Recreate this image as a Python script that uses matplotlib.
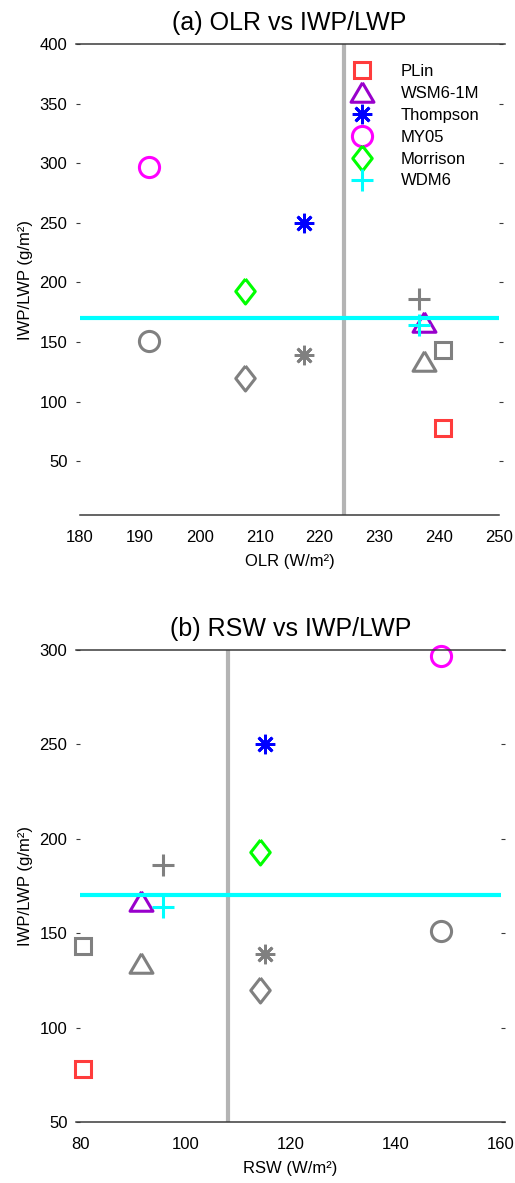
import matplotlib
matplotlib.use("Agg")
import matplotlib.pyplot as plt
from matplotlib.lines import Line2D

plt.rcParams['font.family'] = ['Liberation Sans', 'DejaVu Sans']

# Microphysics schemes
schemes = ["PLin", "WSM6-1M", "Thompson", "MY05", "Morrison", "WDM6"]
colors = ["#ff3c3c", "#9900cc", "#0000ff", "#ff00ff", "#00ff00", "#00ffff"]

# Ice/liquid water path ratio (g/m^2): control runs and sensitivity runs
iwp_lwp = [78, 167, 250, 297, 193, 164]
iwp_lwp_sens = [143, 134, 139, 151, 120, 186]

# Outgoing longwave and reflected shortwave radiation (W/m^2)
olr = [240.6, 237.5, 217.5, 191.5, 207.5, 236.6]
rsw = [80.6, 91.6, 115.2, 148.6, 114.2, 95.8]

# Reference values
olr_ref = 224.1
rsw_ref = 108.2
ratio_ref = 170

gray = "#808080"

diamond = [(0, 1), (0.78, 0), (0, -1), (-0.78, 0), (0, 1)]
triangle = [(0, 0.85), (1, -0.85), (-1, -0.85), (0, 0.85)]
markers = ["s", triangle, (8, 2, 0), "o", diamond, "+"]
msizes = [12, 16.5, 14, 14.5, 18, 16]
mews = [2.2, 2.2, 2.0, 2.2, 2.2, 2.2]

fig = plt.figure(figsize=(5.15, 11.83), dpi=100)
W, H = 515.0, 1183.0
ax_a = fig.add_axes([80 / W, 1 - 515 / H, 419 / W, 471 / H])
ax_b = fig.add_axes([80 / W, 1 - 1122 / H, 421 / W, 472 / H])

spine_col = "#3a3a3a"


def style(ax, xlim, ylim, xticks, yticks, xlabel, title, ext_left, ext_right, bottom_ext):
    ax.set_xlim(*xlim)
    ax.set_ylim(*ylim)
    ax.set_xticks(xticks)
    ax.set_yticks(yticks)
    for s in ["left", "right", "top", "bottom"]:
        ax.spines[s].set_visible(False)
    ax.add_line(Line2D([ext_left, ext_right], [1, 1], transform=ax.transAxes,
                       color=spine_col, lw=1.1, clip_on=False, zorder=5))
    b0, b1 = (ext_left, ext_right) if bottom_ext else (0, 1)
    ax.add_line(Line2D([b0, b1], [0, 0], transform=ax.transAxes,
                       color=spine_col, lw=1.1, clip_on=False, zorder=5))
    ax.tick_params(axis="x", length=0, pad=11, labelsize=12)
    ax.tick_params(axis="y", which="both", left=True, right=True, direction="out",
                   length=3, width=0.8, color=spine_col, pad=6, labelsize=12)
    ax.set_xlabel(xlabel, fontsize=12, labelpad=6)
    ax.set_ylabel("IWP/LWP (g/m²)", fontsize=12, labelpad=5)
    ax.set_title(title, fontsize=18, pad=10)


def draw_points(ax, xs, with_labels):
    for i, name in enumerate(schemes):
        ax.plot(xs[i], iwp_lwp_sens[i], linestyle="none", marker=markers[i],
                markersize=msizes[i], markerfacecolor="none", markeredgecolor=gray,
                markeredgewidth=mews[i], zorder=3, clip_on=False)
    for i, name in enumerate(schemes):
        ax.plot(xs[i], iwp_lwp[i], linestyle="none", marker=markers[i],
                markersize=msizes[i], markerfacecolor="none", markeredgecolor=colors[i],
                markeredgewidth=mews[i], zorder=3, clip_on=False,
                label=name if with_labels else None)


# (a) OLR vs IWP/LWP
draw_points(ax_a, olr, True)
ax_a.axvline(olr_ref, color="#b4b4b4", lw=3, zorder=4)
ax_a.axhline(ratio_ref, color="#00ffff", lw=3, zorder=4)
style(ax_a, (180, 250), (5, 400), range(180, 251, 10), range(50, 401, 50),
      "OLR (W/m²)", "(a) OLR vs IWP/LWP", -0.0095, 1.0145, False)
ax_a.legend(loc="upper left", bbox_to_anchor=(0.653, 0.957), frameon=False,
            numpoints=1, handlelength=1.0, handletextpad=1.85, labelspacing=0.41,
            borderpad=0, borderaxespad=0, fontsize=12)

# (b) RSW vs IWP/LWP
draw_points(ax_b, rsw, False)
ax_b.axvline(rsw_ref, color="#b4b4b4", lw=3, zorder=4)
ax_b.axhline(ratio_ref, color="#00ffff", lw=3, zorder=4)
style(ax_b, (80, 160), (50, 300), range(80, 161, 20), range(50, 301, 50),
      "RSW (W/m²)", "(b) RSW vs IWP/LWP", -0.0095, 1.0095, True)

fig.savefig("out.png", dpi=100)
